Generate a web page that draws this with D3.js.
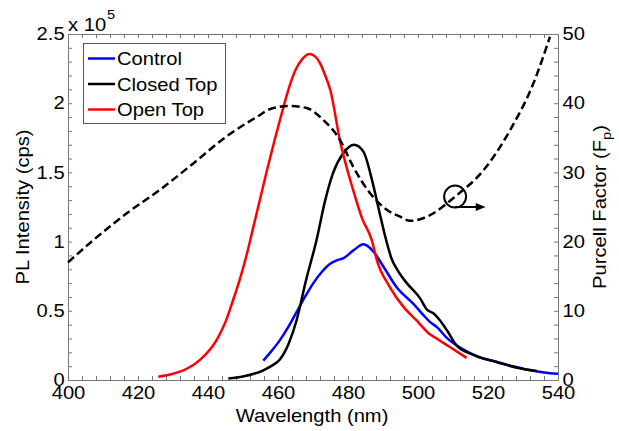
<!DOCTYPE html>
<html>
<head>
<meta charset="utf-8">
<script src="https://cdn.jsdelivr.net/npm/d3@7"></script>
<style>
  body { margin: 0; background: #fff; }
  text { font-family: "Liberation Sans", Arial, sans-serif; font-size: 18px; fill: #000; }
</style>
</head>
<body>
<div id="chart"></div>
<script>
// PL spectra, intensity in units of 1e5 cps
const controlNm = [455.8, 458, 460.6, 463, 465.3, 467.7, 470.1, 472.5, 474.9, 476.8, 478.7, 481.5, 484.4, 487.2, 490.1, 493.9, 498.7, 501.5, 503.4, 505.5, 508, 513, 517, 522.5, 527, 532, 536, 540];
const controlPL = [0.14, 0.205, 0.29, 0.385, 0.49, 0.60, 0.70, 0.78, 0.84, 0.865, 0.88, 0.935, 0.98, 0.93, 0.82, 0.67, 0.55, 0.47, 0.42, 0.38, 0.31, 0.22, 0.17, 0.13, 0.10, 0.07, 0.055, 0.045];

const closedNm = [445.8, 450, 455.8, 458, 460.6, 463, 465.3, 468, 471, 473.5, 475.8, 478.7, 481.7, 484.4, 487, 489.1, 490.6, 492.4, 494.5, 496.8, 500.6, 502.5, 504.5, 506.3, 508.5, 511, 516, 522.5, 528, 533.9];
const closedPL = [0.01, 0.025, 0.07, 0.10, 0.15, 0.26, 0.43, 0.72, 1.01, 1.30, 1.50, 1.64, 1.70, 1.65, 1.43, 1.20, 1.04, 0.88, 0.78, 0.70, 0.59, 0.51, 0.48, 0.43, 0.35, 0.25, 0.18, 0.13, 0.09, 0.065];

const openNm = [425.8, 430, 433, 437.7, 442.5, 445, 447.2, 449, 451, 453, 455, 457, 459, 461, 463, 465, 467, 469, 470.5, 472, 473.5, 475, 477.7, 481.5, 484, 486.8, 488.2, 492, 495.8, 499.6, 503.4, 505.3, 509, 513.9];
const openPL = [0.024, 0.045, 0.07, 0.145, 0.29, 0.42, 0.58, 0.72, 0.90, 1.11, 1.32, 1.53, 1.73, 1.92, 2.10, 2.24, 2.32, 2.355, 2.34, 2.29, 2.20, 2.09, 1.73, 1.37, 1.17, 1.01, 0.87, 0.67, 0.53, 0.43, 0.33, 0.30, 0.24, 0.16];

// Purcell factor (right axis)
const purcellNm = [400, 407.2, 416.8, 426.3, 435.8, 445.3, 453.9, 458, 463.4, 468.2, 472.9, 477.7, 481.5, 486.3, 491.1, 494.9, 497.7, 501, 504.4, 510.6, 518.7, 526.3, 533, 537.7];
const purcellFp = [17.0, 20.2, 24.1, 27.5, 31.3, 35.2, 38.0, 39.2, 39.6, 39.3, 37.6, 34.7, 30.8, 27.0, 24.6, 23.6, 23.0, 23.3, 24.1, 26.5, 30.3, 36.1, 42.9, 49.6];

const xTicks = d3.range(400, 541, 4);
const xLabels = [400, 420, 440, 460, 480, 500, 520, 540];
const yLeftTicks = d3.range(0, 26).map(i => i / 10);
const yLeftLabels = [0, 0.5, 1, 1.5, 2, 2.5];
const yRightTicks = d3.range(0, 51, 2);
const yRightLabels = [0, 10, 20, 30, 40, 50];

const series = [
    { name: "Control", nm: controlNm, val: controlPL, color: "#0000ff" },
    { name: "Closed Top", nm: closedNm, val: closedPL, color: "#000000" },
    { name: "Open Top", nm: openNm, val: openPL, color: "#ff0000" }
];

const svgWidth = 619;
const svgHeight = 431;
const plot = { left: 68, right: 558, top: 34, bottom: 380 };
const stretch = "scale(1.12,1)";

const svg = d3.select("#chart")
    .append("svg")
    .attr("width", svgWidth)
    .attr("height", svgHeight);

const x = d3.scaleLinear().domain([400, 540]).range([plot.left, plot.right]);
const yL = d3.scaleLinear().domain([0, 2.5]).range([plot.bottom, plot.top]);
const yR = d3.scaleLinear().domain([0, 50]).range([plot.bottom, plot.top]);

const fmt = d3.format("~g");
const labelIf = list => d => list.some(v => Math.abs(v - d) < 1e-9) ? fmt(d) : "";

// axes, ticks pointing inward
function styleAxis(g) {
    g.select(".domain").attr("stroke", "#777");
    g.selectAll(".tick line").attr("stroke", "#777");
    g.selectAll(".tick text").attr("transform", stretch).style("font-size", "18px");
}

svg.append("g")
    .attr("transform", `translate(0,${plot.bottom})`)
    .call(d3.axisBottom(x).tickValues(xTicks).tickSizeInner(-4).tickSizeOuter(0)
        .tickPadding(6).tickFormat(labelIf(xLabels)))
    .call(styleAxis);

svg.append("g")
    .attr("transform", `translate(0,${plot.top})`)
    .call(d3.axisTop(x).tickValues(xTicks).tickSizeInner(-4).tickSizeOuter(0).tickFormat(""))
    .call(styleAxis);

svg.append("g")
    .attr("transform", `translate(${plot.left},0)`)
    .call(d3.axisLeft(yL).tickValues(yLeftTicks).tickSizeInner(-4).tickSizeOuter(0)
        .tickPadding(3).tickFormat(labelIf(yLeftLabels)))
    .call(styleAxis);

svg.append("g")
    .attr("transform", `translate(${plot.right},0)`)
    .call(d3.axisRight(yR).tickValues(yRightTicks).tickSizeInner(-4).tickSizeOuter(0)
        .tickPadding(4).tickFormat(labelIf(yRightLabels)))
    .call(styleAxis);

// PL curves
const lineL = d3.line()
    .x(d => x(d[0]))
    .y(d => yL(d[1]))
    .curve(d3.curveMonotoneX);

series.forEach(s => {
    svg.append("path")
        .datum(d3.zip(s.nm, s.val))
        .attr("fill", "none")
        .attr("stroke", s.color)
        .attr("stroke-width", 2.5)
        .attr("stroke-linejoin", "round")
        .attr("d", lineL);
});

// Purcell factor curve on right axis
const lineR = d3.line()
    .x(d => x(d[0]))
    .y(d => yR(d[1]))
    .curve(d3.curveMonotoneX);

svg.append("path")
    .datum(d3.zip(purcellNm, purcellFp))
    .attr("fill", "none")
    .attr("stroke", "#000")
    .attr("stroke-width", 2.5)
    .attr("stroke-dasharray", "8,4")
    .attr("d", lineR);

// circle + arrow marking the right-axis curve
svg.append("circle")
    .attr("cx", x(510.6))
    .attr("cy", yR(26.5))
    .attr("r", 11)
    .attr("fill", "none")
    .attr("stroke", "#000")
    .attr("stroke-width", 2);

const ay = yR(25.0);
svg.append("line")
    .attr("x1", x(510.6)).attr("x2", x(517.5))
    .attr("y1", ay).attr("y2", ay)
    .attr("stroke", "#000")
    .attr("stroke-width", 2);
svg.append("path")
    .attr("d", `M${x(519.3)},${ay} L${x(516.5)},${ay - 4} L${x(516.5)},${ay + 4} Z`)
    .attr("fill", "#000");

// legend
const legend = svg.append("g");
legend.append("rect")
    .attr("x", 83.5).attr("y", 43.5)
    .attr("width", 142).attr("height", 80)
    .attr("fill", "#fff")
    .attr("stroke", "#555");

series.forEach((s, i) => {
    const ly = 58.5 + i * 25.5;
    legend.append("line")
        .attr("x1", 88).attr("x2", 115)
        .attr("y1", ly).attr("y2", ly)
        .attr("stroke", s.color)
        .attr("stroke-width", 2.5);
    legend.append("text")
        .attr("transform", `translate(117,${ly + 6.5}) ${stretch}`)
        .text(s.name);
});

// exponent label
svg.append("text")
    .attr("transform", `translate(68,31) ${stretch}`)
    .text("x 10");
svg.append("text")
    .attr("transform", `translate(107,19) ${stretch}`)
    .style("font-size", "13px")
    .text("5");

// axis titles
svg.append("text")
    .attr("transform", `translate(312,422) ${stretch}`)
    .attr("text-anchor", "middle")
    .text("Wavelength (nm)");

svg.append("text")
    .attr("transform", `translate(29,207) rotate(-90) ${stretch}`)
    .attr("text-anchor", "middle")
    .text("PL Intensity (cps)");

const rt = svg.append("text")
    .attr("transform", `translate(606,207) rotate(-90) ${stretch}`)
    .attr("text-anchor", "middle");
rt.append("tspan").text("Purcell Factor (F");
rt.append("tspan").attr("dy", 5).style("font-size", "13px").text("p");
rt.append("tspan").attr("dy", -5).text(")");
</script>
</body>
</html>
